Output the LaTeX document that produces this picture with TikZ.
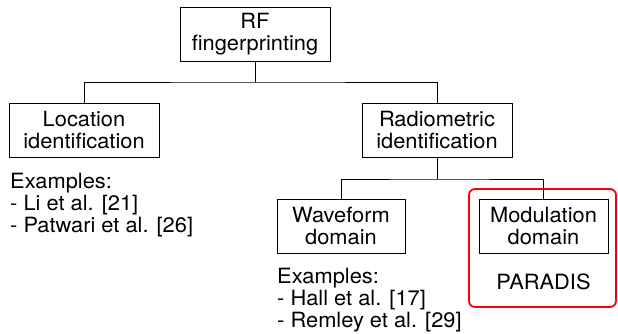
\documentclass[tikz,border=0pt]{standalone}
\usepackage{fontspec}
\setmainfont[FakeStretch=1.04]{TeX Gyre Heros}
\begin{document}
\begin{tikzpicture}[x=1pt,y=-1pt,
  every node/.style={font=\fontsize{21}{22}\selectfont, inner sep=0pt},
  box/.style={draw=black, line width=0.95pt, align=center, minimum height=54pt},
  conn/.style={draw=black, line width=0.95pt},
  txt/.style={align=left, anchor=west},
  hl/.style={draw=red, line width=1.8pt, rounded corners=6pt}]
\useasboundingbox (0,0) rectangle (618,333);
\node[box, minimum width=150pt] (rf) at (255,34) {RF\\fingerprinting};
\node[box, minimum width=150pt] (loc) at (84,130) {Location\\identification};
\node[box, minimum width=150pt] (rad) at (437,130) {Radiometric\\identification};
\node[box, minimum width=128pt] (wav) at (341,226) {Waveform\\domain};
\node[box, minimum width=129pt] (mod) at (543.5,226) {Modulation\\domain};
\coordinate (j1) at (255,82);
\coordinate (j2) at (437,179);
\draw[conn] (rf.south) -- (j1);
\draw[conn] (loc.north) |- (j1) -| (rad.north);
\draw[conn] (rad.south) -- (j2);
\draw[conn] (wav.north) |- (j2) -| (mod.north);
\node[txt] (exl) at (10,205) {Examples:\\- Li et al. [21]\\- Patwari et al. [26]};
\node[txt] (exw) at (277,300) {Examples:\\- Hall et al. [17]\\- Remley et al. [29]};
\node (par) at (543.5,282) {PARADIS};
\draw[hl] (469,189) rectangle (616,307);
\end{tikzpicture}
\end{document}
